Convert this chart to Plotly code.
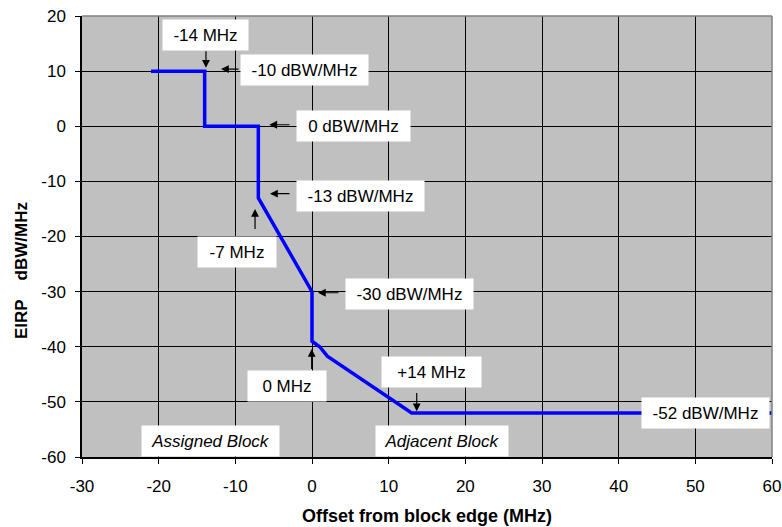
import plotly.graph_objects as go

# Mask data
freq_mhz = [-21, -14, -14, -7, -7, 0, 0, 1, 2, 13, 60]
eirp_dbw = [10, 10, 0, 0, -13, -30, -39, -40, -41.7, -52, -52]

x_ticks = [-30, -20, -10, 0, 10, 20, 30, 40, 50, 60]
y_ticks = [20, 10, 0, -10, -20, -30, -40, -50, -60]

# Label boxes: text, x, y, width
label_texts = ["-14 MHz", "-10 dBW/MHz", "0 dBW/MHz", "-13 dBW/MHz", "-7 MHz",
               "-30 dBW/MHz", "0 MHz", "+14 MHz", "-52 dBW/MHz",
               "<i>Assigned Block</i>", "<i>Adjacent Block</i>"]
label_x = [-13.89, -0.98, 5.39, 6.33, -9.78, 12.72, -3.29, 15.56, 51.3, -13.26, 16.9]
label_y = [16.6, 10.25, 0.09, -12.6, -22.76, -30.38, -47.06, -44.5, -52.0, -57.16, -57.16]
label_w = [85, 127, 113, 127, 78, 127, 78, 99, 127, 137, 132]

# Pointer arrows: head (x, y) and tail (x, y)
arrow_head_x = [-13.83, -11.87, -5.57, -5.48, -7.43, 0.78, -0.04, 13.66]
arrow_head_y = [10.6, 10.37, 0.27, -12.24, -15.0, -30.2, -40.4, -51.7]
arrow_tail_x = [-13.83, -9.39, -2.74, -2.74, -7.43, 3.65, -0.04, 13.66]
arrow_tail_y = [13.87, 10.37, 0.27, -12.24, -18.9, -30.2, -44.3, -48.1]

FONT = "Liberation Sans, Arial, sans-serif"

fig = go.Figure()
fig.add_trace(go.Scatter(x=freq_mhz, y=eirp_dbw, mode="lines",
                         line=dict(color="#0000FF", width=3.5),
                         showlegend=False, hoverinfo="skip"))

annotations = []
for t, x, y, w in zip(label_texts, label_x, label_y, label_w):
    annotations.append(dict(text=t, x=x, y=y, xref="x", yref="y", showarrow=False,
                            bgcolor="white", width=w, height=30, borderpad=0,
                            font=dict(family=FONT, size=17, color="black"),
                            xanchor="center", yanchor="middle"))
for hx, hy, tx, ty in zip(arrow_head_x, arrow_head_y, arrow_tail_x, arrow_tail_y):
    annotations.append(dict(text="", x=hx, y=hy, xref="x", yref="y",
                            ax=tx, ay=ty, axref="x", ayref="y", showarrow=True,
                            arrowhead=2, arrowsize=1.3, arrowwidth=1.2,
                            arrowcolor="black", standoff=0, startstandoff=0))

L, R, T, B = 82, 10, 16, 70
pw, ph = 782 - L - R, 527 - T - B

# axis titles (pixel positions from top-left converted to paper fractions)
annotations.append(dict(text="<b>Offset from block edge (MHz)</b>",
                        x=(427 - L) / pw, y=((527 - 516) - B) / ph,
                        xref="paper", yref="paper", showarrow=False,
                        xanchor="center", yanchor="middle",
                        font=dict(family=FONT, size=18, color="black")))
annotations.append(dict(text="<b>EIRP&nbsp;&nbsp;&nbsp; dBW/MHz</b>",
                        x=(21 - L) / pw, y=((527 - 271) - B) / ph,
                        xref="paper", yref="paper", showarrow=False, textangle=-90,
                        xanchor="center", yanchor="middle",
                        font=dict(family=FONT, size=17, color="black")))

fig.update_layout(
    width=782, height=527, autosize=False,
    margin=dict(l=L, r=R, t=T, b=B, autoexpand=False),
    paper_bgcolor="white", plot_bgcolor="#C0C0C0",
    font=dict(family=FONT, size=17, color="black"),
    annotations=annotations,
    shapes=[
        dict(type="line", xref="paper", yref="paper", x0=0, x1=1, y0=1, y1=1,
             line=dict(color="#808080", width=1.5), layer="above"),
        dict(type="line", xref="paper", yref="paper", x0=1, x1=1, y0=0, y1=1,
             line=dict(color="#808080", width=1.5), layer="above"),
    ],
)
fig.update_xaxes(range=[-30, 60], tickvals=x_ticks, ticktext=[str(v) for v in x_ticks],
                 showgrid=True, gridcolor="#000000", gridwidth=1, zeroline=False,
                 showline=True, linecolor="black", linewidth=1.5,
                 ticks="outside", ticklen=5, tickcolor="black", automargin=False,
                 ticklabelstandoff=8, tickfont=dict(size=17))
fig.update_yaxes(range=[-60, 20], tickvals=y_ticks, ticktext=[str(v) for v in y_ticks],
                 showgrid=True, gridcolor="#000000", gridwidth=1, zeroline=False,
                 showline=True, linecolor="black", linewidth=1.5,
                 ticks="outside", ticklen=5, tickcolor="black", automargin=False,
                 ticklabelstandoff=6, tickfont=dict(size=17))

fig.write_html("out.html",
               config={"displayModeBar": False, "responsive": False},
               post_script="document.body.style.margin='0px';document.body.style.padding='0px';")
